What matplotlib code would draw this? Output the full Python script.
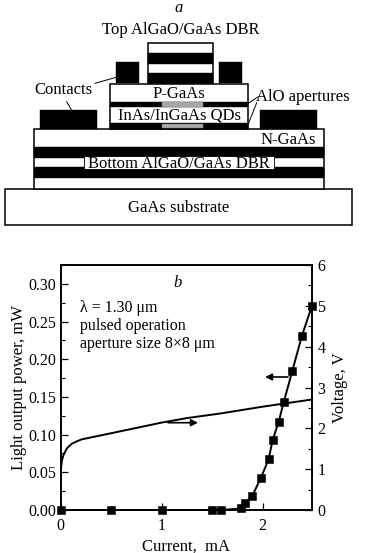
import numpy as np
import matplotlib
matplotlib.use('Agg')
import matplotlib.pyplot as plt
from matplotlib.patches import Rectangle
from matplotlib.ticker import MultipleLocator

plt.rcParams['font.family'] = ['Liberation Serif', 'DejaVu Serif']

W, H = 367, 553
FS = 12
FS_TICK = 11.5

# light output curve (squares)
current_p = [0, 0.5, 1.0, 1.50, 1.59, 1.79, 1.83, 1.90, 1.985, 2.06, 2.10, 2.16, 2.21, 2.295, 2.39, 2.49]
power = [0, 0, 0, 0, 0, 0.002, 0.0097, 0.019, 0.043, 0.067, 0.0925, 0.117, 0.143, 0.1845, 0.231, 0.271]
# voltage curve
current_v = [0, 0.002, 0.006, 0.015, 0.03, 0.063, 0.11, 0.16, 0.21, 0.52, 1.0, 1.25, 1.6, 2.0, 2.5]
voltage = [0, 0.7, 1.05, 1.22, 1.35, 1.51, 1.62, 1.68, 1.73, 1.89, 2.14, 2.25, 2.37, 2.53, 2.71]

left_ticks = [0, 0.05, 0.10, 0.15, 0.20, 0.25, 0.30]
right_ticks = [0, 1, 2, 3, 4, 5, 6]
x_ticks = [0, 1, 2]

# schematic layers, in picture pixels: x0, x1, y0, y1
white_layers = [(4.7, 352, 188.7, 225.3), (34, 324, 129, 188.7), (110.3, 247.7, 84, 129),
                (148, 213.3, 42.7, 82.7)]
black_layers = [(34, 324, 147.3, 157.7), (34, 324, 167.3, 178.3),
                (40, 97.3, 110.3, 129), (260, 317.3, 110.3, 129),
                (116.3, 139, 61.7, 83.5), (219, 241.7, 61.7, 83.5),
                (110.3, 247.7, 101.7, 107.3), (110.3, 247.7, 123.3, 129),
                (148, 213.3, 52.7, 64), (148, 213.3, 72.7, 82.7)]
gray_layers = [(162.3, 202.7, 102.3, 107), (162.3, 202.7, 123.7, 128.3)]
label_boxes = [(84, 274, 156, 169.3)]
leaders = [((95, 83.3), (116.3, 77.3)), ((66.7, 101.7), (71.7, 110.3)),
           ((248.3, 103.3), (258.3, 96.7)), ((248.3, 124), (256.7, 102.7))]
labels = [('Top AlGaO/GaAs DBR', 180.5, 29.5, 'center'), ('Contacts', 63, 90, 'center'),
          ('P-GaAs', 179, 94.5, 'center'), ('AlO apertures', 303, 97, 'center'),
          ('InAs/InGaAs QDs', 179, 115.5, 'center'), ('N-GaAs', 288.5, 140, 'center'),
          ('Bottom AlGaO/GaAs DBR', 178.5, 163.5, 'center'), ('GaAs substrate', 178.5, 207.5, 'center')]

fig = plt.figure(figsize=(W / 100, H / 100), dpi=100)

# upper schematic drawn in pixel coordinates
sk = fig.add_axes([0, 0, 1, 1])
sk.set_xlim(0, W)
sk.set_ylim(H, 0)
sk.axis('off')


def box(b, fc, ec='black', lw=1.1):
    sk.add_patch(Rectangle((b[0], b[2]), b[1] - b[0], b[3] - b[2], fc=fc, ec=ec, lw=lw))


for b in white_layers:
    box(b, 'white')
for b in black_layers:
    box(b, 'black', lw=0.3)
for b in gray_layers:
    box(b, '#a8a8a8', ec='#808080', lw=0.3)
for b in label_boxes:
    box(b, 'white', lw=0.6)
for p, q in leaders:
    sk.plot([p[0], q[0]], [p[1], q[1]], color='black', lw=0.7)
for s, x, y, ha in labels:
    sk.text(x, y, s, fontsize=FS, ha=ha, va='center')
sk.text(179, 8, 'a', fontsize=FS, style='italic', ha='center', va='center')

# lower chart
ax = fig.add_axes([60.5 / W, 1 - 510 / H, 251.2 / W, 245 / H])
ax.patch.set_alpha(0)
ax.set_xlim(0, 2.487)
ax.set_ylim(0, 0.325)
ax.plot(current_p, power, color='black', lw=1.4, marker='s', ms=5.6, mew=0.4, mfc='black', mec='black', clip_on=False)
ax.set_xticks(x_ticks)
ax.set_yticks(left_ticks)
ax.set_yticklabels(['%.2f' % v for v in left_ticks])
ax.yaxis.set_minor_locator(MultipleLocator(0.025))
ax.xaxis.set_minor_locator(MultipleLocator(0.5))
ax.tick_params(axis='both', which='major', direction='in', length=5, width=0.9, labelsize=FS_TICK)
ax.tick_params(axis='x', which='major', pad=6)
ax.tick_params(axis='y', which='major', pad=3)
ax.tick_params(axis='both', which='minor', direction='in', length=3, width=0.8)
ax.set_xlabel('Current,  mA', fontsize=FS, labelpad=3)
ax.set_ylabel('Light output power, mW', fontsize=FS, labelpad=1)

ax2 = ax.twinx()
ax2.set_ylim(0, 6)
ax2.plot(current_v, voltage, color='black', lw=1.4)
ax2.set_yticks(right_ticks)
ax2.yaxis.set_minor_locator(MultipleLocator(0.5))
ax2.tick_params(axis='y', which='major', direction='in', length=5, width=0.9, labelsize=FS_TICK, pad=4)
ax2.tick_params(axis='y', which='minor', direction='in', length=3, width=0.8)
ax2.set_ylabel('Voltage, V', fontsize=FS, labelpad=5)

for a in (ax, ax2):
    for s in a.spines.values():
        s.set_linewidth(1.2)

# note and direction arrows, in pixels on the overlay
top = fig.add_axes([0, 0, 1, 1])
top.set_xlim(0, W)
top.set_ylim(H, 0)
top.axis('off')
top.text(178, 283, 'b', fontsize=FS, style='italic', ha='center', va='center')
top.text(80.5, 308.5, '\u03bb = 1.30 \u03bcm', fontsize=FS_TICK, va='center')
top.text(80.5, 325.5, 'pulsed operation', fontsize=FS_TICK, va='center')
top.text(80.5, 344, 'aperture size 8\u00d78 \u03bcm', fontsize=FS_TICK, va='center')
top.annotate('', xy=(265, 377), xytext=(288, 377), arrowprops=dict(arrowstyle='-|>', color='black', lw=1.2, shrinkA=0, shrinkB=0))
top.annotate('', xy=(198, 422.7), xytext=(168, 422.7), arrowprops=dict(arrowstyle='-|>', color='black', lw=1.2, shrinkA=0, shrinkB=0))

fig.savefig('out.png', dpi=100)
